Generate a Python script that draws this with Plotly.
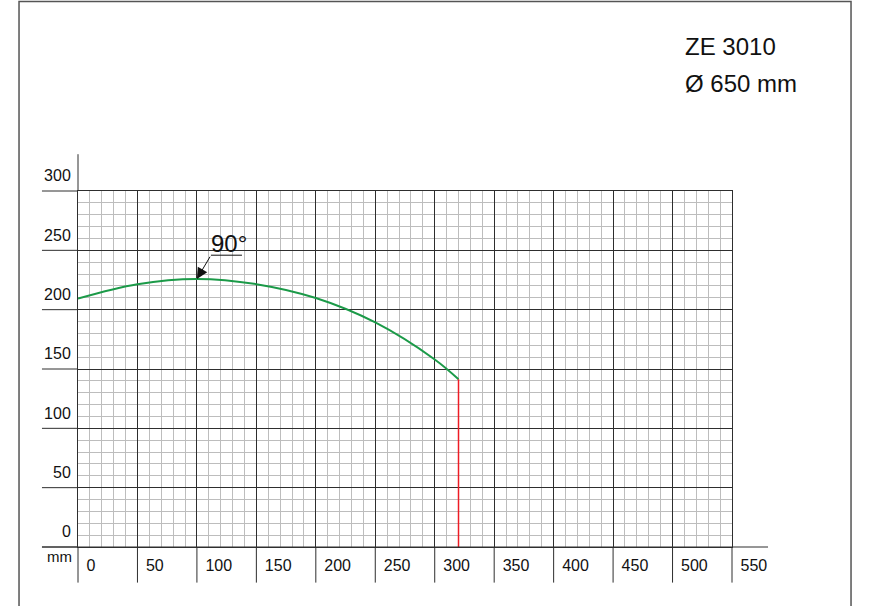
import plotly.graph_objects as go

# ---- data ----
curve_x = [0, 50, 100, 150, 200, 250, 300, 320]
curve_y = [209.4, 221.5, 225.9, 221.5, 209.8, 189.2, 158, 141.3]
limit_x = [320, 320]
limit_y = [141.3, 0]
x_ticks = list(range(0, 551, 50))
y_ticks = list(range(0, 301, 50))
x_max = 550
y_max = 300
angle_label = "90°"
title_lines = ["ZE 3010", "Ø 650 mm"]
unit_label = "mm"

FONT = "Liberation Sans, Arial, sans-serif"
MAJOR = "#2e2e2e"
MINOR = "#bdbdbd"


def xp(v):
    return v / x_max


def yp(v):
    return v / y_max


fig = go.Figure()
fig.add_trace(go.Scatter(x=curve_x, y=curve_y, mode="lines",
                         line=dict(color="#1b9a48", width=2, shape="spline", smoothing=1.0),
                         hoverinfo="skip"))
fig.add_trace(go.Scatter(x=limit_x, y=limit_y, mode="lines",
                         line=dict(color="#ee1c25", width=1.5), hoverinfo="skip"))

shapes = []
line_style = dict(color=MAJOR, width=1)
# y axis extension above grid
shapes.append(dict(type="line", xref="paper", yref="paper", x0=0, x1=0,
                   y0=1, y1=yp(331), line=line_style))
# left extensions of major horizontal lines
for v in y_ticks:
    shapes.append(dict(type="line", xref="paper", yref="paper", x0=xp(-30.3), x1=0,
                       y0=yp(v), y1=yp(v), line=line_style))
# bottom axis extension
shapes.append(dict(type="line", xref="paper", yref="paper", x0=xp(-30.3), x1=xp(580.3),
                   y0=0, y1=0, line=line_style))
# tick cells below axis
for v in x_ticks:
    shapes.append(dict(type="line", xref="paper", yref="paper", x0=xp(v), x1=xp(v),
                       y0=yp(-30), y1=0, line=line_style))
# frame
shapes.append(dict(type="rect", xref="paper", yref="paper", x0=xp(-49.6), x1=xp(650.1),
                   y0=yp(-70), y1=yp(459.6), line=dict(color="#555555", width=1.5)))
# underline of angle label
shapes.append(dict(type="line", xref="x", yref="y", x0=111.8, x1=137.9, y0=245.9, y1=245.9,
                   line=dict(color="#111111", width=1)))

annotations = [
    dict(x=100, y=225.9, xref="x", yref="y", ax=111.8, ay=245.9, axref="x", ayref="y",
         text="", showarrow=True, arrowhead=2, arrowsize=2.2, arrowwidth=1, arrowcolor="#111111"),
    dict(x=127.4, y=256, xref="x", yref="y", text=angle_label, showarrow=False,
         font=dict(family=FONT, size=24, color="#111111"), xanchor="center", yanchor="middle"),
    dict(x=xp(-3.4), y=yp(-8.2), xref="paper", yref="paper", text=unit_label, showarrow=False,
         font=dict(family=FONT, size=15, color="#111111"), xanchor="right", yanchor="middle"),
]
for i, t in enumerate(title_lines):
    annotations.append(dict(x=xp((683 - 78) / 1.189), y=yp((547.3 - (46 + 37 * i)) / 1.189),
                            xref="paper", yref="paper", text=t, showarrow=False,
                            font=dict(family=FONT, size=24, color="#111111"),
                            xanchor="left", yanchor="middle"))

fig.update_layout(
    width=869, height=606,
    margin=dict(l=78, r=137, t=191, b=59, autoexpand=False),
    paper_bgcolor="white", plot_bgcolor="white",
    showlegend=False,
    shapes=shapes, annotations=annotations,
    font=dict(family=FONT, size=16, color="#111111"),
)
fig.update_xaxes(range=[0, x_max], tickvals=x_ticks, ticktext=[str(v) for v in x_ticks],
                 showgrid=True, gridcolor=MAJOR, gridwidth=1,
                 minor=dict(dtick=10, tick0=0, showgrid=True, gridcolor=MINOR, gridwidth=1),
                 showline=True, mirror=True, linecolor=MAJOR, linewidth=1,
                 zeroline=False, ticks="", ticklabelposition="outside right",
                 ticklabelshift=8, ticklabelstandoff=4,
                 tickfont=dict(family=FONT, size=16, color="#111111"))
fig.update_yaxes(range=[0, y_max], tickvals=y_ticks, ticktext=[str(v) for v in y_ticks],
                 showgrid=True, gridcolor=MAJOR, gridwidth=1,
                 minor=dict(dtick=10, tick0=0, showgrid=True, gridcolor=MINOR, gridwidth=1),
                 showline=True, mirror=True, linecolor=MAJOR, linewidth=1,
                 zeroline=False, ticks="", ticklabelposition="outside top",
                 ticklabelshift=-4, ticklabelstandoff=3,
                 tickfont=dict(family=FONT, size=16, color="#111111"))

fig.write_html("out.html", config={"displayModeBar": False, "staticPlot": True},
               post_script="document.body.style.margin='0px';document.body.style.overflow='hidden';")
